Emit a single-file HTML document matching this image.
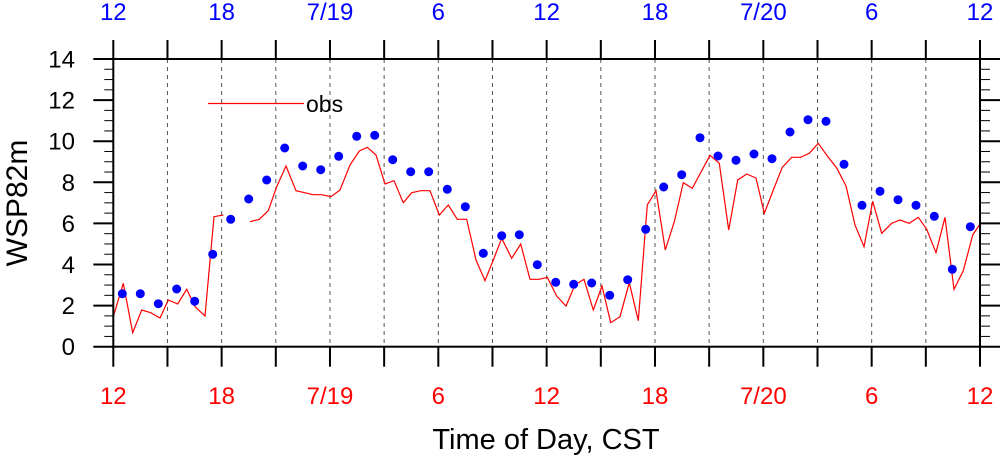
<!DOCTYPE html>
<html><head><style>body{margin:0;background:#fff}</style></head><body>
<svg width="1000" height="458" xmlns="http://www.w3.org/2000/svg" font-family="Liberation Sans, sans-serif">
<rect width="1000" height="458" fill="#fff"/>
<g id="grid" stroke="#555" stroke-width="1" stroke-dasharray="4,4"></g>
<polyline fill="none" stroke="#f00" stroke-width="1.2" points="113.3,316.7 123.3,283.3 132.7,332.7 141.7,310 150.7,312.7 160,318 168.3,300 177.7,304 186.7,289.3 195,306.7 205,316 214,216.7 223.3,215"/>
<polyline fill="none" stroke="#f00" stroke-width="1.2" points="250,221.7 259.3,219.3 268.3,210.7 276.7,186.7 286,166 296,190.7 313.3,194.7 321.7,194.7 331,196.7 340,190 350,165 359.3,151 367.3,147.3 376,155 385,184 394,180.7 403.3,202.7 411.7,192.7 420.7,190.7 430,190.7 439.3,215 448.3,205 457.3,219.3 466.7,219.3 476,260 485,280.7 493.3,260 501.7,238.3 511.7,258.3 520.7,244 530,279.3 539.3,279.3 547.3,277.3 556.7,296 566,306 575,285 584,279.3 593.3,310 602,286 610.7,322.7 620,316.7 629.3,282.7 638.3,320.7 647.3,205 656,190.7 665.3,250 674.3,221.7 683.3,182.7 692.3,188.3 710,155.3 719.3,163.3 728.7,230 737.7,180 746.7,174 756,178 764.3,213.3 773.3,190 782.3,167.3 791.7,157.3 800.7,157.3 809.3,153.3 818.3,143.3 827.3,156 836.7,168 846,186 855,225 864,246.7 872.7,201.3 881.7,233.3 891.7,223.3 900,220 909.3,223.3 918.3,217.3 926.7,229.3 936,252.7 945,217.3 954,289.3 963.3,270.7 972.7,235 979.3,225"/>
<g fill="#00f">
<circle cx="122.3" cy="293.7" r="4.5"/><circle cx="140.3" cy="293.7" r="4.5"/><circle cx="158.3" cy="303.7" r="4.5"/><circle cx="176.7" cy="289" r="4.5"/><circle cx="194.7" cy="301.3" r="4.5"/><circle cx="212.7" cy="254.3" r="4.5"/><circle cx="230.7" cy="219.3" r="4.5"/><circle cx="248.7" cy="199" r="4.5"/><circle cx="266.7" cy="180" r="4.5"/><circle cx="284.7" cy="148" r="4.5"/><circle cx="302.7" cy="166" r="4.5"/><circle cx="320.7" cy="169.7" r="4.5"/><circle cx="338.7" cy="156.3" r="4.5"/><circle cx="356.7" cy="136.3" r="4.5"/><circle cx="374.7" cy="135.3" r="4.5"/><circle cx="392.7" cy="159.7" r="4.5"/><circle cx="410.7" cy="171.7" r="4.5"/><circle cx="428.7" cy="171.7" r="4.5"/><circle cx="447.3" cy="189.3" r="4.5"/><circle cx="465.3" cy="206.7" r="4.5"/><circle cx="483.3" cy="253.3" r="4.5"/><circle cx="501.7" cy="235.7" r="4.5"/><circle cx="519.3" cy="234.7" r="4.5"/><circle cx="537.3" cy="264.7" r="4.5"/>
<circle cx="555.7" cy="282.3" r="4.5"/><circle cx="573.7" cy="284.3" r="4.5"/><circle cx="591.7" cy="283" r="4.5"/><circle cx="609.7" cy="295.3" r="4.5"/><circle cx="627.7" cy="279.7" r="4.5"/><circle cx="645.7" cy="229.3" r="4.5"/><circle cx="663.7" cy="187" r="4.5"/><circle cx="681.7" cy="174.7" r="4.5"/><circle cx="700" cy="137.7" r="4.5"/><circle cx="718" cy="156" r="4.5"/><circle cx="736" cy="160.3" r="4.5"/><circle cx="754" cy="154" r="4.5"/><circle cx="772" cy="158.7" r="4.5"/><circle cx="790" cy="132" r="4.5"/><circle cx="808" cy="119.7" r="4.5"/><circle cx="826" cy="121.3" r="4.5"/><circle cx="844" cy="164.3" r="4.5"/><circle cx="862" cy="205.3" r="4.5"/><circle cx="880" cy="191.3" r="4.5"/><circle cx="898" cy="199.7" r="4.5"/><circle cx="916" cy="205.3" r="4.5"/><circle cx="934.3" cy="216.3" r="4.5"/><circle cx="952.3" cy="269.3" r="4.5"/><circle cx="970.3" cy="226.7" r="4.5"/>
</g>
<rect x="113.3" y="59" width="866.7" height="287.7" fill="none" stroke="#000" stroke-width="2"/>
<g id="ticks" stroke="#000"></g>
<line x1="208" y1="103.5" x2="304" y2="103.5" stroke="#f00" stroke-width="1.2"/>
<text x="306" y="112" font-size="23">obs</text>
<g id="lab" font-size="24" text-anchor="middle"></g>
<text transform="translate(27,203) rotate(-90)" font-size="30" text-anchor="middle">WSP82m</text>
<text x="546" y="449" font-size="29" text-anchor="middle">Time of Day, CST</text>
</svg>
<script>
var ns="http://www.w3.org/2000/svg",L=113.3,R=980,T=59,B=346.7,g=document.getElementById("grid"),t=document.getElementById("ticks"),lb=document.getElementById("lab");
function ln(p,a,w){var e=document.createElementNS(ns,"line");e.setAttribute("x1",a[0]);e.setAttribute("y1",a[1]);e.setAttribute("x2",a[2]);e.setAttribute("y2",a[3]);if(w)e.setAttribute("stroke-width",w);p.appendChild(e);}
function tx(s,x,y,c,a){var e=document.createElementNS(ns,"text");e.setAttribute("x",x);e.setAttribute("y",y);e.setAttribute("fill",c);if(a)e.setAttribute("text-anchor",a);e.textContent=s;lb.appendChild(e);}
var labs=["12","18","7/19","6","12","18","7/20","6","12"];
for(var i=0;i<=16;i++){var x=L+i*(R-L)/16;if(i>0&&i<16)ln(g,[x,T,x,B]);ln(t,[x,T,x,T-19],2);ln(t,[x,B,x,B+20],2);if(i%2==0){tx(labs[i/2],x,404,"#f00");tx(labs[i/2],x,20,"#00f");}}
for(var k=0;k<=28;k++){var y=B-k*(B-T)/28,maj=k%4==0;ln(t,[L,y,L-(maj?20:9),y],maj?2:1);ln(t,[R,y,R+(maj?20:10),y],maj?2:1);if(maj)tx(String(k/2),75,y+8.5,"#000","end");}
</script>
</body></html>
